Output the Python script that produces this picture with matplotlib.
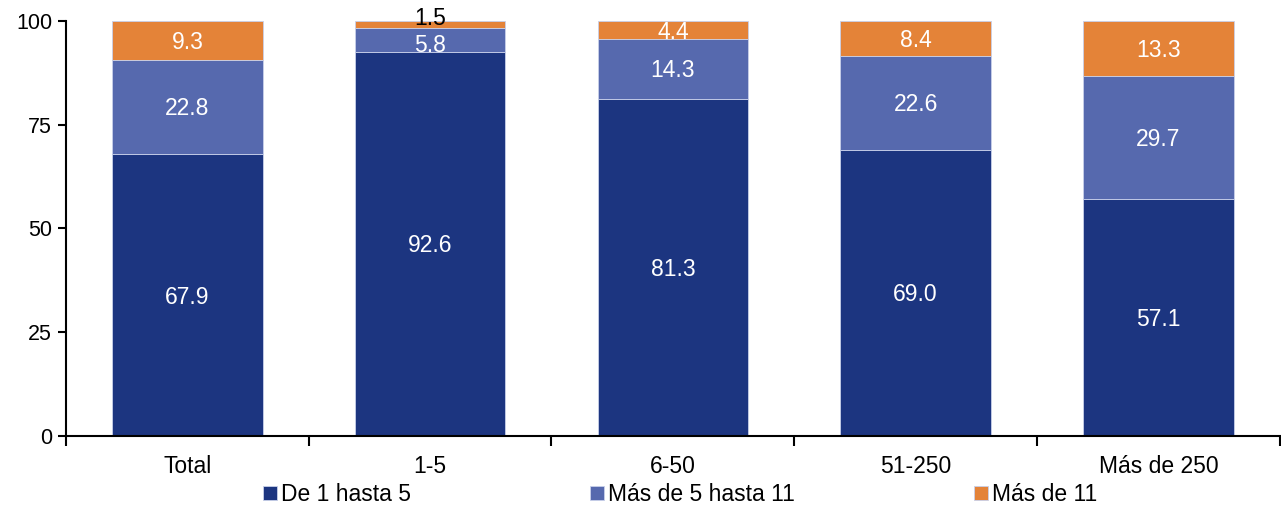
import numpy as np
import matplotlib.pyplot as plt

plt.rcParams['font.family'] = ['Liberation Sans', 'DejaVu Sans']

categories = ['Total', '1-5', '6-50', '51-250', 'Más de 250']
de_1_a_5 = [67.9, 92.6, 81.3, 69.0, 57.1]
de_5_a_11 = [22.8, 5.8, 14.3, 22.6, 29.7]
mas_de_11 = [9.3, 1.5, 4.4, 8.4, 13.3]
series_names = ['De 1 hasta 5', 'Más de 5 hasta 11', 'Más de 11']
colors = ['#1c3580', '#5669ae', '#e48338']

fig = plt.figure(figsize=(12.81, 5.08), dpi=100)
ax = fig.add_axes([0.0515, 0.1417, 0.9475, 0.817])

x = np.arange(len(categories))
width = 0.62
series = [np.array(s) for s in (de_1_a_5, de_5_a_11, mas_de_11)]
bottom = np.zeros(len(categories))
for k, (name, vals, col) in enumerate(zip(series_names, series, colors)):
    ax.bar(x, vals, width, bottom=bottom, color=col, label=name,
           edgecolor='#c8d0ea', linewidth=0.6)
    for i, (xi, b, v) in enumerate(zip(x, bottom, vals)):
        if v < 3:
            # too thin to hold the label, write it just above the bar
            ax.text(xi, b + v + 0.6, f'{v:.1f}', ha='center', va='center',
                    color='black', fontsize=16.5, clip_on=False)
        else:
            # push down a bit more when the label above sits outside the bar
            dy = 0.5
            if k + 1 < len(series) and series[k + 1][i] < 3:
                dy = 1.5
            ax.text(xi, b + v / 2 - dy, f'{v:.1f}', ha='center', va='center',
                    color='white', fontsize=16.5)
    bottom += vals

ax.set_xlim(-0.5, 4.5)
ax.set_ylim(0, 100)
ax.set_yticks([0, 25, 50, 75, 100])
ax.set_xticks(x)
ax.set_xticklabels(categories)
ax.set_xticks(np.arange(-0.5, 5.0, 1.0), minor=True)
ax.tick_params(axis='x', which='major', length=0, pad=14, labelsize=16.5)
ax.tick_params(axis='x', which='minor', length=7, width=1.5, direction='out')
ax.tick_params(axis='y', length=6, width=1.5, labelsize=15.5, pad=4)

for side in ['top', 'right']:
    ax.spines[side].set_visible(False)
for side in ['left', 'bottom']:
    ax.spines[side].set_linewidth(1.5)

fig.legend(loc='center', bbox_to_anchor=(0.531, 0.026), ncol=3,
           frameon=False, fontsize=16.5, handlelength=0.6, handleheight=0.6,
           handletextpad=0.2, columnspacing=7.8)

fig.savefig('out.png', dpi=100)
